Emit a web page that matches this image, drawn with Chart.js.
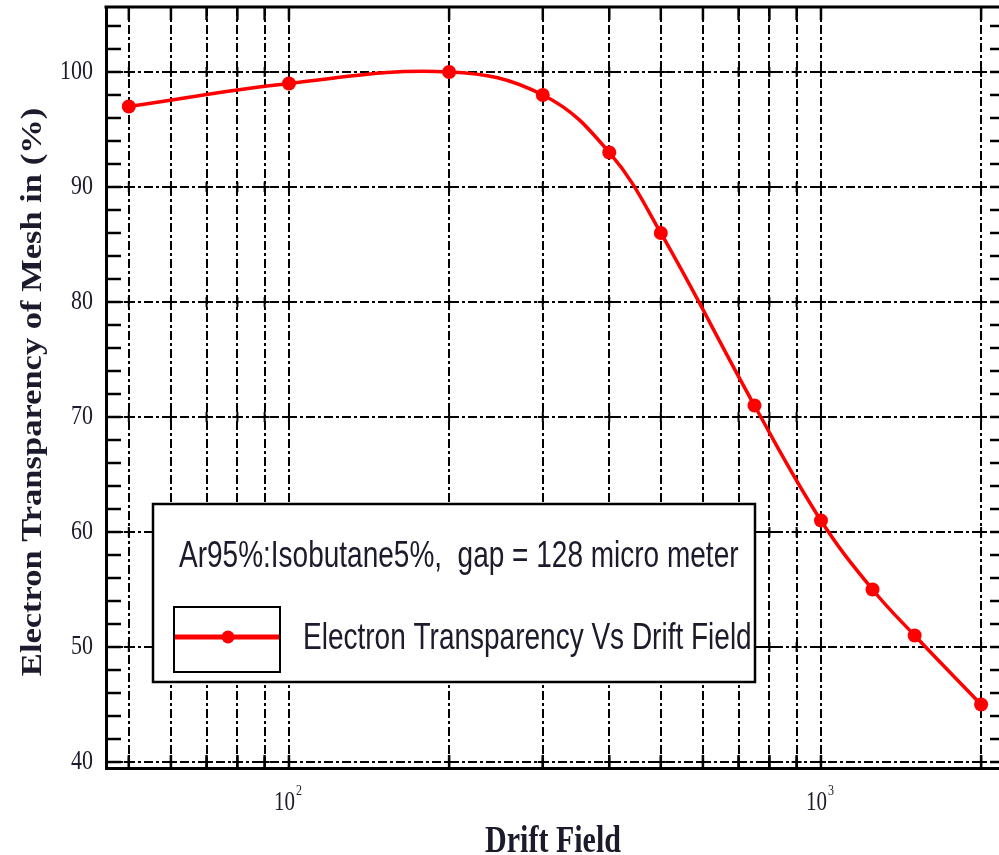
<!DOCTYPE html>
<html>
<head>
<meta charset="utf-8">
<script src="https://cdn.jsdelivr.net/npm/chart.js@4.4.1/dist/chart.umd.min.js"></script>
<style>
  html, body { margin: 0; padding: 0; background: #fff; }
  canvas { display: block; }
</style>
</head>
<body>
<canvas id="graph" width="999" height="855"></canvas>
<script>
// values
const driftField = [50, 100, 200, 300, 400, 500, 750, 1000, 1250, 1500, 2000];
const transparency = [97, 99, 100, 98, 93, 86, 71, 61, 55, 51, 45];

const xGrid = [50, 60, 70, 80, 90, 100, 200, 300, 400, 500, 600, 700, 800, 900, 1000, 2000];
const xLabels = { 100: '2', 1000: '3' };  // 10^2, 10^3
const yTicks = [40, 50, 60, 70, 80, 90, 100];
const yMinor = [42, 44, 46, 48, 52, 54, 56, 58, 62, 64, 66, 68, 72, 74, 76, 78,
                82, 84, 86, 88, 92, 94, 96, 98, 102, 104];

const seriesLabel = 'Electron Transparency Vs Drift Field';
const noteText = 'Ar95%:Isobutane5%,  gap = 128 micro meter';
const xTitle = 'Drift Field';
const yTitle = 'Electron Transparency of Mesh in (%)';

const inkColor = '#1b1b2b';
const dashDot = [9, 3, 3, 3];

function line(ctx, x1, y1, x2, y2) {
    ctx.beginPath();
    ctx.moveTo(x1, y1);
    ctx.lineTo(x2, y2);
    ctx.stroke();
}

// text in the source is squashed a bit taller than wide
function tallText(ctx, text, x, y, sy, align, baseline) {
    ctx.save();
    ctx.translate(x, y);
    ctx.scale(1, sy);
    ctx.textAlign = align;
    ctx.textBaseline = baseline;
    ctx.fillText(text, 0, 0);
    ctx.restore();
}

const framePlugin = {
    id: 'frame',
    beforeDraw(chart) {
        const ctx = chart.ctx;
        ctx.save();
        ctx.fillStyle = '#fff';
        ctx.fillRect(0, 0, chart.width, chart.height);
        ctx.restore();
    },
    beforeDatasetsDraw(chart) {
        const { ctx, chartArea: a, scales: { x, y } } = chart;
        ctx.save();
        ctx.strokeStyle = '#000';
        ctx.setLineDash([]);

        // inner ticks (right frame sits just off the picture)
        ctx.lineWidth = 2.5;
        yMinor.concat(yTicks).forEach(v => {
            const py = y.getPixelForValue(v);
            line(ctx, a.left, py, a.left + 15, py);
            line(ctx, a.right - 9, py, a.right, py);
        });
        xGrid.forEach(v => {
            const px = x.getPixelForValue(v);
            line(ctx, px, a.top, px, a.top + 13);
            line(ctx, px, a.bottom - 13, px, a.bottom);
        });

        // little crosses where grid lines meet
        ctx.lineWidth = 2;
        xGrid.forEach(v => {
            const px = x.getPixelForValue(v);
            yTicks.forEach(w => {
                const py = y.getPixelForValue(w);
                line(ctx, px - 5, py, px + 5, py);
                line(ctx, px, py - 5, px, py + 5);
            });
        });

        // top side of the box
        ctx.lineWidth = 3;
        line(ctx, a.left - 1.5, a.top, a.right, a.top);

        // legend box
        ctx.fillStyle = '#fff';
        ctx.lineWidth = 2.5;
        ctx.fillRect(153, 504, 602, 178);
        ctx.strokeRect(153, 504, 602, 178);
        ctx.lineWidth = 2;
        ctx.strokeRect(174, 607, 106, 65);
        ctx.strokeStyle = '#ff0000';
        ctx.lineWidth = 5;
        line(ctx, 175, 637, 279, 637);
        ctx.fillStyle = '#ff0000';
        ctx.beginPath();
        ctx.arc(228, 637, 6.5, 0, Math.PI * 2);
        ctx.fill();

        ctx.fillStyle = inkColor;
        ctx.font = '28px "Liberation Sans", Arial, sans-serif';
        tallText(ctx, noteText, 179, 567, 1.3, 'left', 'alphabetic');
        tallText(ctx, seriesLabel, 303, 649, 1.3, 'left', 'alphabetic');
        ctx.restore();
    },
    afterDraw(chart) {
        const { ctx, scales: { x, y } } = chart;
        ctx.save();
        ctx.fillStyle = inkColor;

        ctx.font = '22px "Liberation Serif", "Times New Roman", serif';
        yTicks.forEach(v => {
            tallText(ctx, String(v), 93, y.getPixelForValue(v), 1.2, 'right', 'middle');
        });

        xGrid.forEach(v => {
            if (!xLabels[v]) return;
            const px = x.getPixelForValue(v);
            ctx.font = '21px "Liberation Serif", "Times New Roman", serif';
            tallText(ctx, '10', px + 6, 803, 1.25, 'right', 'middle');
            ctx.font = '12px "Liberation Serif", "Times New Roman", serif';
            tallText(ctx, xLabels[v], px + 7, 791, 1.2, 'left', 'middle');
        });

        ctx.font = 'bold 30px "Liberation Serif", "Times New Roman", serif';
        tallText(ctx, xTitle, 553, 852, 1.26, 'center', 'alphabetic');

        ctx.translate(33, 392);
        ctx.rotate(-Math.PI / 2);
        ctx.scale(1.15, 1);
        ctx.textAlign = 'center';
        ctx.textBaseline = 'middle';
        ctx.fillText(yTitle, 0, 0);
        ctx.restore();
    }
};

const graph = document.getElementById('graph').getContext('2d');

new Chart(graph, {
    type: 'line',
    data: {
        datasets: [{
            label: seriesLabel,
            data: driftField.map((f, i) => ({ x: f, y: transparency[i] })),
            borderColor: '#ff0000',
            backgroundColor: '#ff0000',
            borderWidth: 3.5,
            pointRadius: 7,
            pointBorderWidth: 0,
            pointBackgroundColor: '#ff0000',
            tension: 0.4,
            fill: false
        }]
    },
    options: {
        responsive: false,
        animation: false,
        devicePixelRatio: 1,
        layout: { autoPadding: false, padding: { left: 0, top: 7, right: 0, bottom: 0 } },
        plugins: {
            legend: { display: false },
            tooltip: { enabled: false }
        },
        scales: {
            x: {
                type: 'logarithmic',
                min: 45.3,
                max: 2161,
                afterBuildTicks: scale => { scale.ticks = xGrid.map(v => ({ value: v })); },
                afterFit: scale => { scale.height = 87; },
                ticks: { display: false },
                grid: { color: '#000', lineWidth: 2, drawTicks: false },
                border: { display: true, color: '#000', width: 3, dash: dashDot }
            },
            y: {
                type: 'linear',
                min: 39.48,
                max: 105.65,
                afterBuildTicks: scale => { scale.ticks = yTicks.map(v => ({ value: v })); },
                afterFit: scale => { scale.width = 106; },
                ticks: { display: false },
                grid: { color: '#000', lineWidth: 2, drawTicks: false },
                border: { display: true, color: '#000', width: 3, dash: dashDot }
            }
        }
    },
    plugins: [framePlugin]
});
</script>
</body>
</html>
